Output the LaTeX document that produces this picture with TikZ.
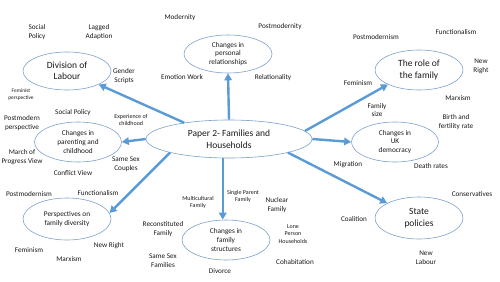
\documentclass[tikz,border=0pt]{standalone}
\usepackage{fontspec}
\setmainfont{Carlito}
\usetikzlibrary{shapes.geometric,arrows.meta}
\definecolor{arrowblue}{RGB}{91,155,213}
\definecolor{ellblue}{RGB}{125,160,205}
\definecolor{txt}{RGB}{25,25,25}
\tikzset{
  ell/.style={ellipse,draw=ellblue,line width=0.6pt,inner sep=0pt,align=center,text=txt},
  bigtxt/.style={font=\fontsize{9.5}{11.5}\selectfont},
  midtxt/.style={font=\fontsize{7.3}{8.7}\selectfont},
  lbl/.style={align=center,inner sep=0pt,text=txt,font=\fontsize{7.2}{8.8}\selectfont},
  tinylbl/.style={align=center,inner sep=0pt,text=txt,font=\fontsize{6}{7.2}\selectfont},
  arr/.style={draw=arrowblue,line width=2.4pt,-{Triangle[length=7pt,width=7.5pt]}}
}
\begin{document}
\begin{tikzpicture}[x=1pt,y=-1pt]
\useasboundingbox (0,0) rectangle (500,281);
% ellipses
\node[ell,minimum width=166pt,minimum height=38pt,font=\fontsize{9.5}{11.5}\selectfont] (c) at (229,139) {Paper 2- Families and\\Households};
\node[ell,bigtxt,minimum width=88pt,minimum height=38pt] (dl) at (67,71) {Division of\\Labour};
\node[ell,midtxt,minimum width=88pt,minimum height=38pt] (pr) at (228,54) {Changes in\\personal\\relationships};
\node[ell,bigtxt,minimum width=88pt,minimum height=40pt] (rf) at (419,70) {The role of\\the family};
\node[ell,midtxt,minimum width=87pt,minimum height=40pt] (pc) at (78,142) {Changes in\\parenting and\\childhood};
\node[ell,midtxt,minimum width=87pt,minimum height=40pt] (uk) at (395,142) {Changes in\\UK\\democracy};
\node[ell,midtxt,minimum width=88pt,minimum height=42pt] (pd) at (67,219) {Perspectives on\\family diversity};
\node[ell,midtxt,minimum width=88pt,minimum height=40pt] (fs) at (226,240) {Changes in\\family\\structures};
\node[ell,bigtxt,minimum width=88pt,minimum height=42pt] (sp) at (419,218) {State\\policies};
% arrows
\draw[arr] (c.160) -- (dl.-23);
\draw[arr] (c.north) -- (pr.south);
\draw[arr] (c.6) -- (rf.205);
\draw[arr] (c.west) -- (pc.east);
\draw[arr] (c.east) -- (uk.west);
\draw[arr] (c.-13) -- (sp.155);
\draw[arr] (c.252) -- (c.252 |- fs.north);
\draw[arr] (c.193) -- (pd.8);
% labels: division of labour
\node[lbl] (l1) at (37,32) {Social\\Policy};
\node[lbl] (l2) at (99,32) {Lagged\\Adaption};
\node[lbl] (l3) at (124,76) {Gender\\Scripts};
\node[tinylbl,font=\fontsize{5.4}{7}\selectfont] (l4) at (21,95) {Feminist\\perspective};
% personal relationships
\node[lbl] (l5) at (180,18) {Modernity};
\node[lbl] (l6) at (280,27) {Postmodernity};
\node[lbl] (l7) at (182,77) {Emotion Work};
\node[lbl] (l8) at (273,78) {Relationality};
% parenting
\node[lbl] (l9) at (73,113) {Social Policy};
\node[tinylbl] (l10) at (131,120) {Experience of\\childhood};
\node[lbl] (l11) at (22,123) {Postmodern\\perspective};
\node[lbl] (l12) at (22,157) {March of\\Progress View};
\node[lbl] (l13) at (73,173) {Conflict View};
\node[lbl] (l14) at (126,164) {Same Sex\\Couples};
% perspectives
\node[lbl] (l15) at (29,194) {Postmodernism};
\node[lbl] (l16) at (98,193) {Functionalism};
\node[lbl] (l17) at (29,250) {Feminism};
\node[lbl] (l18) at (109,246) {New Right};
\node[lbl] (l19) at (69,259) {Marxism};
% family structures
\node[lbl] (l20) at (163,229) {Reconstituted\\Family};
\node[lbl] (l21) at (163,261) {Same Sex\\Families};
\node[tinylbl] (l22) at (198,202) {Multicultural\\Family};
\node[tinylbl] (l23) at (243,196) {Single Parent\\Family};
\node[lbl] (l24) at (277,205) {Nuclear\\Family};
\node[tinylbl] (l25) at (293,234) {Lone\\Person\\Households};
\node[lbl] (l26) at (295,262) {Cohabitation};
\node[lbl] (l27) at (220,271) {Divorce};
% role of family
\node[lbl] (l28) at (376,37) {Postmodernism};
\node[lbl] (l29) at (456,32) {Functionalism};
\node[lbl] (l30) at (481,66) {New\\Right};
\node[lbl] (l31) at (358,83) {Feminism};
\node[lbl] (l32) at (458,98) {Marxism};
% UK democracy
\node[lbl] (l33) at (377,110) {Family\\size};
\node[lbl] (l34) at (456,122) {Birth and\\fertility rate};
\node[lbl] (l35) at (348,165) {Migration};
\node[lbl] (l36) at (431,166) {Death rates};
% state policies
\node[lbl] (l37) at (472,194) {Conservatives};
\node[lbl] (l38) at (354,219) {Coalition};
\node[lbl] (l39) at (426,258) {New\\Labour};
\end{tikzpicture}
\end{document}
